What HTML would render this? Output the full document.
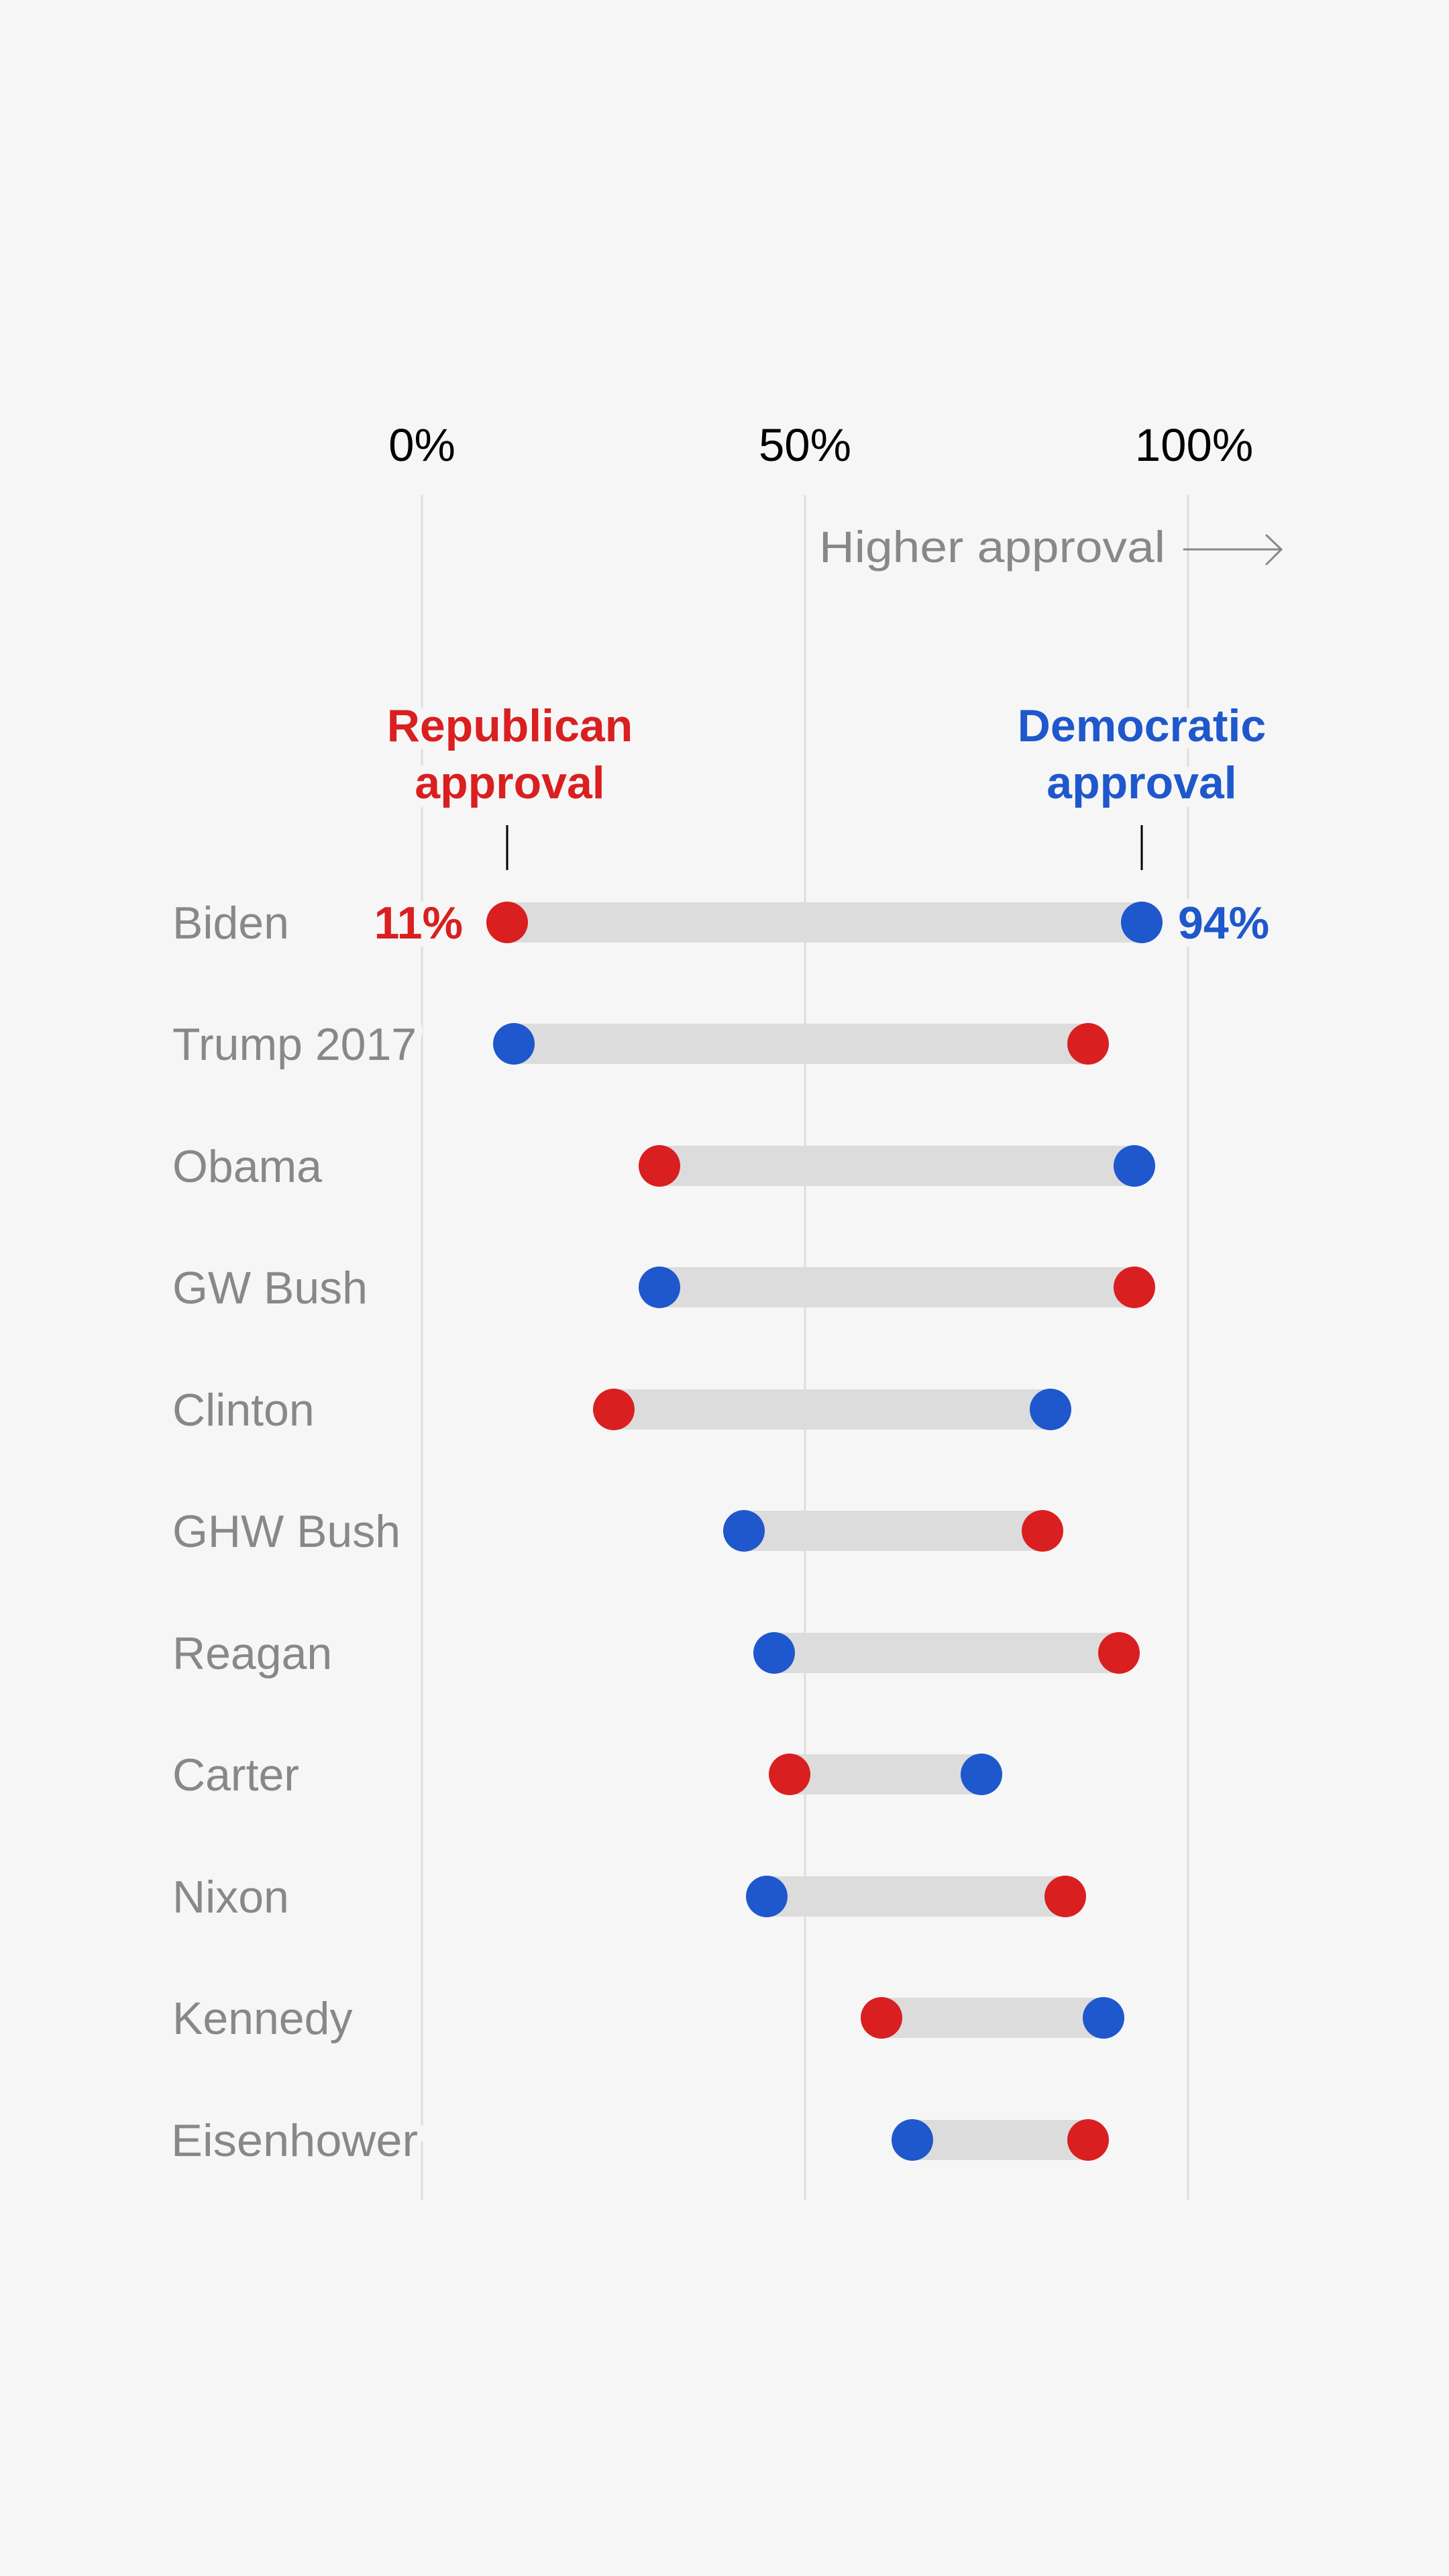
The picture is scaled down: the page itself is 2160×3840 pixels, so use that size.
<!DOCTYPE html>
<html><head><meta charset="utf-8"><style>
html,body{margin:0;padding:0;background:#f6f6f6;}
svg{display:block;}
text{font-family:"Liberation Sans",sans-serif;}
.lab{fill:#888;font-size:68px;stroke:#f6f6f6;stroke-width:24px;paint-order:stroke;stroke-linejoin:round;}
</style></head><body>
<svg width="2160" height="3840" viewBox="0 0 2160 3840" xmlns="http://www.w3.org/2000/svg">
<rect width="2160" height="3840" fill="#f6f6f6"/>
<g stroke="#dddddd" stroke-width="3">
<line x1="629" y1="738" x2="629" y2="3279"/>
<line x1="1200" y1="738" x2="1200" y2="3279"/>
<line x1="1771" y1="738" x2="1771" y2="3279"/>
</g>
<g font-size="69" fill="#000" text-anchor="middle">
<text x="629" y="687">0%</text>
<text x="1200" y="687">50%</text>
<text x="1780" y="687">100%</text>
</g>
<text x="1221" y="838" font-size="66" fill="#888" textLength="516" lengthAdjust="spacingAndGlyphs">Higher approval</text>
<g stroke="#888" stroke-width="3" fill="none" stroke-linecap="round">
<line x1="1765" y1="819" x2="1909" y2="819"/>
<polyline points="1888,798 1910,819 1888,841"/>
</g>
<g font-weight="bold" font-size="68" text-anchor="middle" style="stroke:#f6f6f6;stroke-width:26px;paint-order:stroke;stroke-linejoin:round">
<text x="760" y="1105" fill="#d91f20">Republican</text>
<text x="760" y="1190" fill="#d91f20">approval</text>
<text x="1702" y="1105" fill="#1f57cc">Democratic</text>
<text x="1702" y="1190" fill="#1f57cc">approval</text>
</g>
<g stroke="#000" stroke-width="3">
<line x1="756" y1="1230" x2="756" y2="1297"/>
<line x1="1702" y1="1230" x2="1702" y2="1297"/>
</g>
<g font-weight="bold" font-size="68" style="stroke:#f6f6f6;stroke-width:24px;paint-order:stroke;stroke-linejoin:round">
<text x="690" y="1399" fill="#d91f20" text-anchor="end">11%</text>
<text x="1756" y="1399" fill="#1f57cc">94%</text>
</g>
<g class="labels">
<text class="lab" x="257" y="1399">Biden</text>
<text class="lab" x="257" y="1580">Trump 2017</text>
<text class="lab" x="257" y="1762">Obama</text>
<text class="lab" x="257" y="1943">GW Bush</text>
<text class="lab" x="257" y="2125">Clinton</text>
<text class="lab" x="257" y="2306">GHW Bush</text>
<text class="lab" x="257" y="2488">Reagan</text>
<text class="lab" x="257" y="2669">Carter</text>
<text class="lab" x="257" y="2851">Nixon</text>
<text class="lab" x="257" y="3032">Kennedy</text>
<text class="lab" x="255" y="3214" textLength="368" lengthAdjust="spacingAndGlyphs">Eisenhower</text>
</g>
<g>
<rect x="756" y="1345" width="946" height="60" fill="#dcdcdc"/><circle cx="756" cy="1375" r="31" fill="#d91f20"/><circle cx="1702" cy="1375" r="31" fill="#1f57cc"/>
<rect x="766" y="1526" width="856" height="60" fill="#dcdcdc"/><circle cx="766" cy="1556" r="31" fill="#1f57cc"/><circle cx="1622" cy="1556" r="31" fill="#d91f20"/>
<rect x="983" y="1708" width="708" height="60" fill="#dcdcdc"/><circle cx="983" cy="1738" r="31" fill="#d91f20"/><circle cx="1691" cy="1738" r="31" fill="#1f57cc"/>
<rect x="983" y="1889" width="708" height="60" fill="#dcdcdc"/><circle cx="983" cy="1919" r="31" fill="#1f57cc"/><circle cx="1691" cy="1919" r="31" fill="#d91f20"/>
<rect x="915" y="2071" width="651" height="60" fill="#dcdcdc"/><circle cx="915" cy="2101" r="31" fill="#d91f20"/><circle cx="1566" cy="2101" r="31" fill="#1f57cc"/>
<rect x="1109" y="2252" width="445" height="60" fill="#dcdcdc"/><circle cx="1109" cy="2282" r="31" fill="#1f57cc"/><circle cx="1554" cy="2282" r="31" fill="#d91f20"/>
<rect x="1154" y="2434" width="514" height="60" fill="#dcdcdc"/><circle cx="1154" cy="2464" r="31" fill="#1f57cc"/><circle cx="1668" cy="2464" r="31" fill="#d91f20"/>
<rect x="1177" y="2615" width="286" height="60" fill="#dcdcdc"/><circle cx="1177" cy="2645" r="31" fill="#d91f20"/><circle cx="1463" cy="2645" r="31" fill="#1f57cc"/>
<rect x="1143" y="2797" width="445" height="60" fill="#dcdcdc"/><circle cx="1143" cy="2827" r="31" fill="#1f57cc"/><circle cx="1588" cy="2827" r="31" fill="#d91f20"/>
<rect x="1314" y="2978" width="331" height="60" fill="#dcdcdc"/><circle cx="1314" cy="3008" r="31" fill="#d91f20"/><circle cx="1645" cy="3008" r="31" fill="#1f57cc"/>
<rect x="1360" y="3160" width="262" height="60" fill="#dcdcdc"/><circle cx="1360" cy="3190" r="31" fill="#1f57cc"/><circle cx="1622" cy="3190" r="31" fill="#d91f20"/>
</g>
</svg>
</body></html>
